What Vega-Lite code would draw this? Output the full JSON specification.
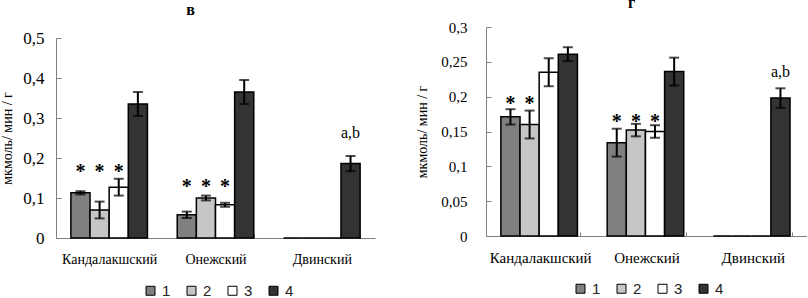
{
  "$schema": "https://vega.github.io/schema/vega-lite/v6.json",
  "background": "white",
  "padding": {"left": 0, "top": -5, "right": 0, "bottom": 0},
  "spacing": 40,
  "bounds": "full",
  "config": {
    "view": {"stroke": null},
    "font": "Liberation Serif",
    "axis": {
      "grid": false,
      "domainColor": "#808080",
      "tickColor": "#808080",
      "labelColor": "#000000",
      "titleColor": "#000000",
      "labelFont": "Liberation Serif",
      "titleFont": "Liberation Serif",
      "titleFontWeight": "normal",
      "labelOverlap": false
    },
    "legend": {
      "orient": "none",
      "direction": "horizontal",
      "title": null,
      "symbolType": "square",
      "symbolSize": 81,
      "symbolStrokeColor": "#000000",
      "symbolStrokeWidth": 1,
      "labelFont": "Liberation Sans",
      "labelFontSize": 15,
      "labelColor": "#222222",
      "labelOffset": 4,
      "columnPadding": 13
    }
  },
  "resolve": {"legend": {"fill": "independent"}, "scale": {"y": "independent"}},
  "hconcat": [
    {
      "width": 319,
      "height": 211,
      "title": {"text": "в", "font": "Liberation Serif", "fontSize": 16, "fontWeight": "bold", "offset": 9, "dx": -25},
      "data": {
        "values": [
          {"region": "Кандалакшский", "series": "1", "value": 0.113, "lo": 0.109, "hi": 0.117},
          {"region": "Кандалакшский", "series": "2", "value": 0.070, "lo": 0.049, "hi": 0.091},
          {"region": "Кандалакшский", "series": "3", "value": 0.127, "lo": 0.106, "hi": 0.148},
          {"region": "Кандалакшский", "series": "4", "value": 0.335, "lo": 0.305, "hi": 0.365},
          {"region": "Онежский", "series": "1", "value": 0.058, "lo": 0.050, "hi": 0.066},
          {"region": "Онежский", "series": "2", "value": 0.100, "lo": 0.094, "hi": 0.106},
          {"region": "Онежский", "series": "3", "value": 0.083, "lo": 0.078, "hi": 0.088},
          {"region": "Онежский", "series": "4", "value": 0.365, "lo": 0.335, "hi": 0.395},
          {"region": "Двинский", "series": "1", "value": 0, "lo": 0, "hi": 0},
          {"region": "Двинский", "series": "2", "value": 0, "lo": 0, "hi": 0},
          {"region": "Двинский", "series": "3", "value": 0, "lo": 0, "hi": 0},
          {"region": "Двинский", "series": "4", "value": 0.186, "lo": 0.167, "hi": 0.205}
        ]
      },
      "encoding": {
        "x": {
          "field": "region", "type": "nominal",
          "sort": ["Кандалакшский", "Онежский", "Двинский"],
          "scale": {"paddingInner": 0.28, "paddingOuter": 0.14},
          "axis": {"title": null, "labelAngle": 0, "labelFont": "Liberation Serif", "labelFontSize": 14, "tickBand": "extent", "tickSize": -4, "labelPadding": 18}
        },
        "xOffset": {"field": "series", "type": "nominal", "sort": ["1", "2", "3", "4"], "scale": {"paddingInner": 0, "paddingOuter": 0}}
      },
      "layer": [
        {
          "mark": {"type": "bar", "stroke": "#000000", "strokeWidth": 1.5},
          "encoding": {
            "y": {
              "field": "value", "type": "quantitative",
              "scale": {"domain": [0, 0.5], "nice": false, "range": [211, 11]},
              "axis": {
                "title": "мкмоль/ мин / г", "titleFont": "Liberation Serif", "titleFontSize": 14, "titlePadding": 8,
                "values": [0, 0.1, 0.2, 0.3, 0.4, 0.5],
                "tickCount": 10,
                "format": ".2~f",
                "labelOverlap": false,
                "labelExpr": "replace(datum.label, '.', ',')",
                "labelFont": "Liberation Serif", "labelFontSize": 17, "tickSize": -5, "labelPadding": 17
              }
            },
            "fill": {
              "field": "series", "type": "nominal",
              "scale": {"domain": ["1", "2", "3", "4"], "range": ["#808080", "#c6c6c6", "#ffffff", "#333333"]},
              "legend": {"legendX": 87, "legendY": 256}
            }
          }
        },
        {
          "transform": [{"filter": "datum.hi > datum.lo"}],
          "mark": {"type": "rule", "color": "#000000", "strokeWidth": 2},
          "encoding": {"y": {"field": "lo", "type": "quantitative"}, "y2": {"field": "hi"}}
        },
        {
          "transform": [{"filter": "datum.hi > datum.lo"}],
          "mark": {"type": "tick", "color": "#000000", "size": 10, "thickness": 2},
          "encoding": {"y": {"field": "lo", "type": "quantitative"}}
        },
        {
          "transform": [{"filter": "datum.hi > datum.lo"}],
          "mark": {"type": "tick", "color": "#000000", "size": 10, "thickness": 2},
          "encoding": {"y": {"field": "hi", "type": "quantitative"}}
        },
        {
          "data": {
            "values": [
              {"region": "Кандалакшский", "series": "1", "label": "*", "pos": 0.177},
              {"region": "Кандалакшский", "series": "2", "label": "*", "pos": 0.177},
              {"region": "Кандалакшский", "series": "3", "label": "*", "pos": 0.177},
              {"region": "Онежский", "series": "1", "label": "*", "pos": 0.141},
              {"region": "Онежский", "series": "2", "label": "*", "pos": 0.141},
              {"region": "Онежский", "series": "3", "label": "*", "pos": 0.141}
            ]
          },
          "mark": {"type": "text", "font": "Liberation Serif", "fontSize": 20, "fontWeight": "bold", "baseline": "middle", "dy": 5, "color": "#000000"},
          "encoding": {"y": {"field": "pos", "type": "quantitative"}, "text": {"field": "label"}}
        },
        {
          "data": {"values": [{"region": "Двинский", "series": "4", "label": "a,b", "pos": 0.262}]},
          "mark": {"type": "text", "font": "Liberation Serif", "fontSize": 16, "baseline": "middle", "color": "#000000"},
          "encoding": {"y": {"field": "pos", "type": "quantitative"}, "text": {"field": "label"}}
        }
      ]
    },
    {
      "width": 321,
      "height": 209,
      "title": {"text": "г", "font": "Liberation Serif", "fontSize": 16, "fontWeight": "bold", "offset": 9, "dx": -15},
      "data": {
        "values": [
          {"region": "Кандалакшский", "series": "1", "value": 0.171, "lo": 0.160, "hi": 0.182},
          {"region": "Кандалакшский", "series": "2", "value": 0.160, "lo": 0.140, "hi": 0.180},
          {"region": "Кандалакшский", "series": "3", "value": 0.235, "lo": 0.215, "hi": 0.255},
          {"region": "Кандалакшский", "series": "4", "value": 0.261, "lo": 0.251, "hi": 0.271},
          {"region": "Онежский", "series": "1", "value": 0.134, "lo": 0.114, "hi": 0.154},
          {"region": "Онежский", "series": "2", "value": 0.152, "lo": 0.143, "hi": 0.161},
          {"region": "Онежский", "series": "3", "value": 0.150, "lo": 0.141, "hi": 0.159},
          {"region": "Онежский", "series": "4", "value": 0.236, "lo": 0.216, "hi": 0.256},
          {"region": "Двинский", "series": "1", "value": 0, "lo": 0, "hi": 0},
          {"region": "Двинский", "series": "2", "value": 0, "lo": 0, "hi": 0},
          {"region": "Двинский", "series": "3", "value": 0, "lo": 0, "hi": 0},
          {"region": "Двинский", "series": "4", "value": 0.198, "lo": 0.184, "hi": 0.212}
        ]
      },
      "encoding": {
        "x": {
          "field": "region", "type": "nominal",
          "sort": ["Кандалакшский", "Онежский", "Двинский"],
          "scale": {"paddingInner": 0.26, "paddingOuter": 0.14},
          "axis": {"title": null, "labelAngle": 0, "labelFont": "Liberation Serif", "labelFontSize": 15, "tickBand": "extent", "tickSize": -4, "labelPadding": 18}
        },
        "xOffset": {"field": "series", "type": "nominal", "sort": ["1", "2", "3", "4"], "scale": {"paddingInner": 0, "paddingOuter": 0}}
      },
      "layer": [
        {
          "mark": {"type": "bar", "stroke": "#000000", "strokeWidth": 1.5},
          "encoding": {
            "y": {
              "field": "value", "type": "quantitative",
              "scale": {"domain": [0, 0.3], "nice": false},
              "axis": {
                "title": "мкмоль/ мин / г", "titleFont": "Liberation Serif", "titleFontSize": 14, "titlePadding": 11,
                "values": [0, 0.05, 0.1, 0.15, 0.2, 0.25, 0.3],
                "tickCount": 10,
                "format": ".2~f",
                "labelOverlap": false,
                "labelExpr": "replace(datum.label, '.', ',')",
                "labelFont": "Liberation Serif", "labelFontSize": 15, "tickSize": -5, "labelPadding": 24
              }
            },
            "fill": {
              "field": "series", "type": "nominal",
              "scale": {"domain": ["1", "2", "3", "4"], "range": ["#808080", "#c6c6c6", "#ffffff", "#333333"]},
              "legend": {"legendX": 87, "legendY": 254}
            }
          }
        },
        {
          "transform": [{"filter": "datum.hi > datum.lo"}],
          "mark": {"type": "rule", "color": "#000000", "strokeWidth": 2},
          "encoding": {"y": {"field": "lo", "type": "quantitative"}, "y2": {"field": "hi"}}
        },
        {
          "transform": [{"filter": "datum.hi > datum.lo"}],
          "mark": {"type": "tick", "color": "#000000", "size": 10, "thickness": 2},
          "encoding": {"y": {"field": "lo", "type": "quantitative"}}
        },
        {
          "transform": [{"filter": "datum.hi > datum.lo"}],
          "mark": {"type": "tick", "color": "#000000", "size": 10, "thickness": 2},
          "encoding": {"y": {"field": "hi", "type": "quantitative"}}
        },
        {
          "data": {
            "values": [
              {"region": "Кандалакшский", "series": "1", "label": "*", "pos": 0.197},
              {"region": "Кандалакшский", "series": "2", "label": "*", "pos": 0.197},
              {"region": "Онежский", "series": "1", "label": "*", "pos": 0.171},
              {"region": "Онежский", "series": "2", "label": "*", "pos": 0.171},
              {"region": "Онежский", "series": "3", "label": "*", "pos": 0.171}
            ]
          },
          "mark": {"type": "text", "font": "Liberation Serif", "fontSize": 20, "fontWeight": "bold", "baseline": "middle", "dy": 5, "color": "#000000"},
          "encoding": {"y": {"field": "pos", "type": "quantitative"}, "text": {"field": "label"}}
        },
        {
          "data": {"values": [{"region": "Двинский", "series": "4", "label": "a,b", "pos": 0.235}]},
          "mark": {"type": "text", "font": "Liberation Serif", "fontSize": 16, "baseline": "middle", "color": "#000000"},
          "encoding": {"y": {"field": "pos", "type": "quantitative"}, "text": {"field": "label"}}
        }
      ]
    }
  ]
}
